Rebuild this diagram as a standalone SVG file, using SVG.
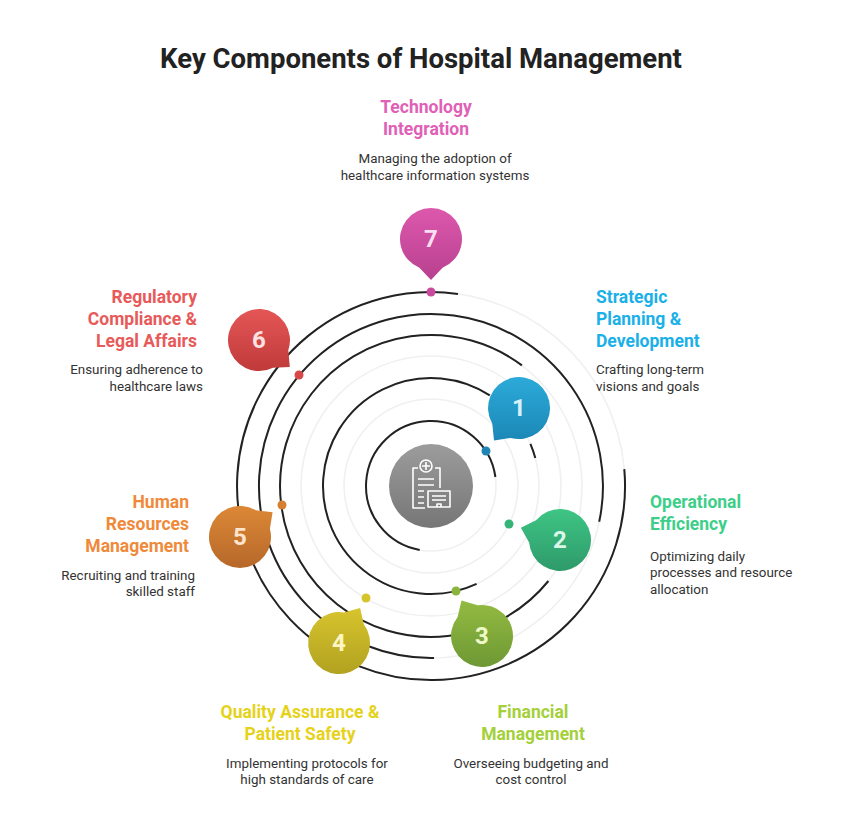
<svg xmlns="http://www.w3.org/2000/svg" width="842" height="832" viewBox="0 0 842 832">
<style>
text{font-family:Roboto,"Liberation Sans",sans-serif}
.t{font-size:27.5px;font-weight:bold;fill:#222}
.h{font-size:17.5px;font-weight:bold}
.d{font-size:13.4px;fill:#333}
.g{fill:none;stroke:#f0f0f0;stroke-width:1.6}
.k{fill:none;stroke:#222;stroke-width:2}
.n{font-size:24px;font-weight:bold;text-anchor:middle}
.ic{fill:none;stroke:#fff;stroke-width:1.6;stroke-linejoin:round}
</style>
<defs>
<linearGradient id="g1" x1="0" y1="0" x2="0" y2="1"><stop offset="0" stop-color="#2caad9"/><stop offset="1" stop-color="#1b88b6"/></linearGradient>
<linearGradient id="g2" x1="0" y1="0" x2="0" y2="1"><stop offset="0" stop-color="#3ec584"/><stop offset="1" stop-color="#2e9a6a"/></linearGradient>
<linearGradient id="g3" x1="0" y1="0" x2="0" y2="1"><stop offset="0" stop-color="#93bb42"/><stop offset="1" stop-color="#6e9834"/></linearGradient>
<linearGradient id="g4" x1="0" y1="0" x2="0" y2="1"><stop offset="0" stop-color="#d8c42e"/><stop offset="1" stop-color="#b1a220"/></linearGradient>
<linearGradient id="g5" x1="0" y1="0" x2="0" y2="1"><stop offset="0" stop-color="#dc8836"/><stop offset="1" stop-color="#b6682a"/></linearGradient>
<linearGradient id="g6" x1="0" y1="0" x2="0" y2="1"><stop offset="0" stop-color="#e45656"/><stop offset="1" stop-color="#c03a3a"/></linearGradient>
<linearGradient id="g7" x1="0" y1="0" x2="0" y2="1"><stop offset="0" stop-color="#dd58ad"/><stop offset="1" stop-color="#b8408f"/></linearGradient>
<linearGradient id="gc" x1="0" y1="0" x2="0" y2="1"><stop offset="0" stop-color="#9c9c9c"/><stop offset="1" stop-color="#767676"/></linearGradient>
</defs>
<text class="t" x="421" y="68" text-anchor="middle">Key Components of Hospital Management</text>
<g id="connectors">
<circle class="g" cx="431" cy="486" r="65"/>
<circle class="g" cx="431" cy="486" r="87"/>
<circle class="g" cx="431" cy="486" r="108"/>
<circle class="g" cx="431" cy="486" r="130"/>
<circle class="g" cx="431" cy="486" r="151"/>
<circle class="g" cx="431" cy="486" r="172"/>
<circle class="g" cx="431" cy="486" r="194"/>
<path class="k" d="M419.7,550 A65 65 0 1 1 495.4,477"/>
<path class="k" d="M476.6,583.9 A108 108 0 1 1 489.8,395.4"/>
<path class="k" d="M530.4,443.8 A108 108 0 0 1 535.3,458"/>
<path class="k" d="M548.4,581 A151 151 0 1 1 521.9,365.4"/>
<path class="k" d="M434,658 A172 172 0 1 1 599.2,521.8"/>
<path class="k" d="M624.3,469.1 A194 194 0 1 1 458,293.9"/>
</g>
<g id="center">
<circle cx="431" cy="486" r="42" fill="url(#gc)"/>
<path class="ic" d="M418,468 h-5 v40 h12 M435,468 h5 v20"/>
<circle class="ic" cx="426" cy="466" r="6"/>
<path class="ic" d="M426,462 v8 M422,466 h8"/>
<path class="ic" d="M418,479 h16 M418,485 h16 M418,491 h6 M418,497 h6 M418,503 h6"/>
<rect class="ic" x="428" y="491" width="22" height="16"/>
<path class="ic" d="M432,496 h14 M432,500 h14 M437,507 v-3 h4 v3"/>
</g>
<g id="node7">
<path fill="url(#g7)" d="M442.6,267.7 A31 31 0 1 0 419.4,267.7 L431,280 Z"/>
<text class="n" x="431" y="247" fill="#fbe0f2">7</text>
<circle cx="431" cy="292" r="4.5" fill="#c84a9c"/>
<text class="h" fill="#e060b8" text-anchor="middle" x="426" y="113">Technology</text>
<text class="h" fill="#e060b8" text-anchor="middle" x="426" y="135">Integration</text>
<text class="d" text-anchor="middle" x="435" y="163">Managing the adoption of</text>
<text class="d" text-anchor="middle" x="435" y="180">healthcare information systems</text>
</g>
<g id="node1">
<path fill="url(#g1)" d="M510.7,437.9 A31 31 0 1 0 492.3,423.7 L494,440.5 Z"/>
<text class="n" x="519" y="416" fill="#d8f0fb">1</text>
<circle cx="486" cy="451" r="4.5" fill="#2185b3"/>
<text class="h" fill="#1ab0e8" x="596" y="303">Strategic</text>
<text class="h" fill="#1ab0e8" x="596" y="325">Planning &amp;</text>
<text class="h" fill="#1ab0e8" x="596" y="347">Development</text>
<text class="d" x="596" y="374">Crafting long-term</text>
<text class="d" x="596" y="391">visions and goals</text>
</g>
<g id="node2">
<path fill="url(#g2)" d="M529.1,542.5 A31 31 0 1 0 536,520.3 L520.9,527.7 Z"/>
<text class="n" x="560" y="548" fill="#d9f7e8">2</text>
<circle cx="509" cy="524" r="4.5" fill="#36b477"/>
<text class="h" fill="#3dcf8a" x="650" y="508">Operational</text>
<text class="h" fill="#3dcf8a" x="650" y="530">Efficiency</text>
<text class="d" x="650" y="561">Optimizing daily</text>
<text class="d" x="650" y="577">processes and resource</text>
<text class="d" x="650" y="594">allocation</text>
</g>
<g id="node3">
<path fill="url(#g3)" d="M457.6,616.9 A31 31 0 1 0 477.7,605.3 L461.5,600.5 Z"/>
<text class="n" x="482" y="644" fill="#eefbc8">3</text>
<circle cx="456" cy="591" r="4.5" fill="#8ab43e"/>
<text class="h" fill="#a4d03a" text-anchor="middle" x="533" y="718">Financial</text>
<text class="h" fill="#a4d03a" text-anchor="middle" x="533" y="740">Management</text>
<text class="d" text-anchor="middle" x="531" y="768">Overseeing budgeting and</text>
<text class="d" text-anchor="middle" x="531" y="784">cost control</text>
</g>
<g id="node4">
<path fill="url(#g4)" d="M343.8,612.4 A31 31 0 1 0 363.8,624.3 L360.1,607.9 Z"/>
<text class="n" x="339" y="651" fill="#fdf6c4">4</text>
<circle cx="366" cy="598" r="4.5" fill="#d6c42c"/>
<text class="h" fill="#e6d21a" text-anchor="middle" x="300" y="718">Quality Assurance &amp;</text>
<text class="h" fill="#e6d21a" text-anchor="middle" x="300" y="740">Patient Safety</text>
<text class="d" text-anchor="middle" x="307" y="768">Implementing protocols for</text>
<text class="d" text-anchor="middle" x="307" y="784">high standards of care</text>
</g>
<g id="node5">
<path fill="url(#g5)" d="M255.8,510.3 A31 31 0 1 0 269.9,528.8 L272.6,512.2 Z"/>
<text class="n" x="240" y="545" fill="#fde4cc">5</text>
<circle cx="282" cy="505" r="4.5" fill="#d57f32"/>
<text class="h" fill="#ef8a3a" text-anchor="end" x="189" y="508">Human</text>
<text class="h" fill="#ef8a3a" text-anchor="end" x="189" y="530">Resources</text>
<text class="h" fill="#ef8a3a" text-anchor="end" x="189" y="552">Management</text>
<text class="d" text-anchor="end" x="195" y="580">Recruiting and training</text>
<text class="d" text-anchor="end" x="195" y="596">skilled staff</text>
</g>
<g id="node6">
<path fill="url(#g6)" d="M288.3,350.2 A31 31 0 1 0 273,367.7 L289.8,367 Z"/>
<text class="n" x="259" y="348" fill="#fde0e0">6</text>
<circle cx="299" cy="375" r="4.5" fill="#d84848"/>
<text class="h" fill="#e85a5a" text-anchor="end" x="197" y="303">Regulatory</text>
<text class="h" fill="#e85a5a" text-anchor="end" x="197" y="325">Compliance &amp;</text>
<text class="h" fill="#e85a5a" text-anchor="end" x="197" y="347">Legal Affairs</text>
<text class="d" text-anchor="end" x="203" y="374">Ensuring adherence to</text>
<text class="d" text-anchor="end" x="203" y="391">healthcare laws</text>
</g>
</svg>
